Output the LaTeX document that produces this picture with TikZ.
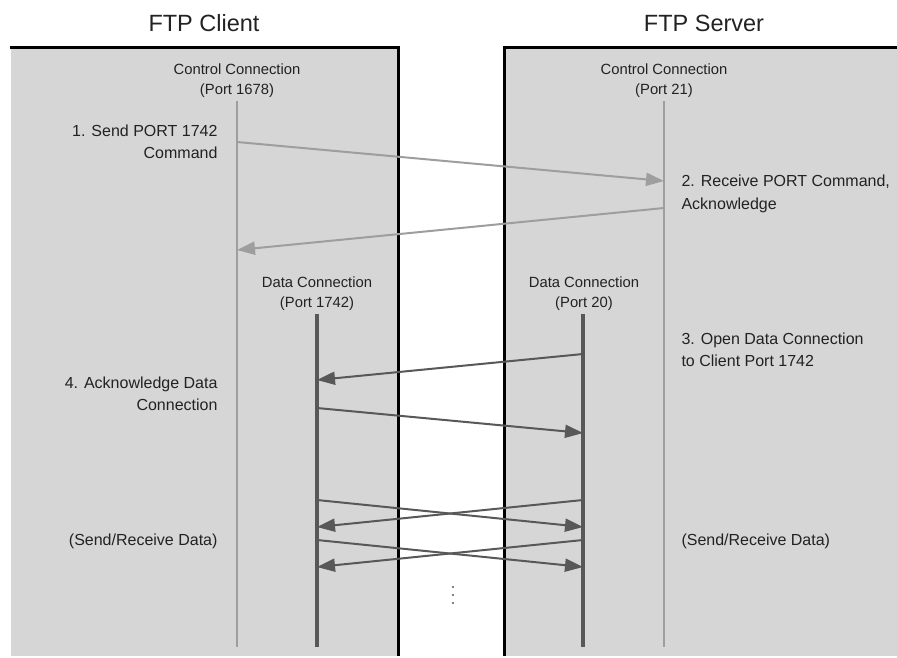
\documentclass[tikz,border=0pt]{standalone}
\usepackage{fontspec}
\setmainfont{Liberation Sans}
\usetikzlibrary{arrows.meta, positioning, calc}
\definecolor{panelgray}{RGB}{214, 214, 214}
\definecolor{ctrlgray}{RGB}{158, 158, 158}
\definecolor{datagray}{RGB}{88, 88, 88}
\definecolor{inkgray}{RGB}{34, 34, 34}
\tikzset{
    panel/.style={fill=panelgray, draw=none},
    panelrule/.style={line width=3pt, draw=black},
    sidetitle/.style={font=\fontsize{23.5}{26}\selectfont, text=inkgray},
    portlabel/.style={font=\fontsize{14.8}{20}\selectfont, align=center, text=inkgray},
    steplabel/.style={font=\fontsize{16}{22.5}\selectfont, text=inkgray},
    ctrlline/.style={line width=2.5pt, draw=ctrlgray},
    dataline/.style={line width=3.5pt, draw=datagray},
    ctrlarrow/.style={-{Triangle[length=18pt, width=13pt]}, line width=2pt, draw=ctrlgray},
    dataarrow/.style={-{Triangle[length=18pt, width=13pt]}, line width=2pt, draw=datagray},
}

\begin{document}
\begin{tikzpicture}[x=1pt, y=-1pt]
    \useasboundingbox (0,0) rectangle (897,657);
    \fill[panel] (11,47) rectangle (398,656);
    \fill[panel] (504,47) rectangle (897,656);
    \draw[panelrule] (10,47) -- (398,47) -- (398,656);
    \draw[panelrule] (897,47) -- (504,47) -- (504,656);

    \node[sidetitle] (client) at (204,23) {FTP Client};
    \node[sidetitle] (server) at (704,23) {FTP Server};

    \node[portlabel] (cctl) at (237,81) {Control Connection\\(Port 1678)};
    \node[portlabel] (sctl) at (664,81) {Control Connection\\(Port 21)};
    \node[portlabel] (cdata) at (317,294) {Data Connection\\(Port 1742)};
    \node[portlabel] (sdata) at (584,294) {Data Connection\\(Port 20)};

    \coordinate (cctl-end) at (237,647);
    \coordinate (sctl-end) at (664,647);
    \coordinate (cdata-end) at (317,647);
    \coordinate (sdata-end) at (583,647);
    \draw[ctrlline] (cctl.south) -- (cctl-end);
    \draw[ctrlline] (sctl.south) -- (sctl-end);
    \draw[dataline] (cdata.south) -- (cdata-end);
    \draw[dataline] (sdata.south -| sdata-end) -- (sdata-end);

    \node[steplabel, anchor=east, align=right] (send) at (221,142) {1. Send PORT 1742\\Command};
    \node[steplabel, anchor=west, align=left] (recv) at (678,194) {2. Receive PORT Command,\\Acknowledge};
    \node[steplabel, anchor=west, align=left] (open) at (678,350) {3. Open Data Connection\\to Client Port 1742};
    \node[steplabel, anchor=east, align=right] (ack) at (221,394) {4. Acknowledge Data\\Connection};
    \node[steplabel, anchor=east] (cxfer) at (221,541) {(Send/Receive Data)};
    \node[steplabel, anchor=west] (sxfer) at (678,541) {(Send/Receive Data)};

    \coordinate (port-a) at (237,142);
    \coordinate (port-b) at (664,181);
    \coordinate (reply-a) at (664,208);
    \coordinate (reply-b) at (237,250);
    \draw[ctrlarrow] (port-a) -- (port-b);
    \draw[ctrlarrow] (reply-a) -- (reply-b);

    \coordinate (open-a) at (583,354);
    \coordinate (open-b) at (317,380);
    \coordinate (ack-a) at (317,408);
    \coordinate (ack-b) at (583,433);
    \draw[dataarrow] (open-a) -- (open-b);
    \draw[dataarrow] (ack-a) -- (ack-b);

    \foreach \y [count=\i] in {500,540} {
        \coordinate (cx\i-a) at (317,\y);
        \coordinate (cx\i-b) at (583,\y+27);
        \coordinate (sx\i-a) at (583,\y);
        \coordinate (sx\i-b) at (317,\y+27);
        \draw[dataarrow] (cx\i-a) -- (cx\i-b);
        \draw[dataarrow] (sx\i-a) -- (sx\i-b);
    }

    \foreach \y in {587,595,603}
        \fill[datagray] (453,\y) circle (1.1pt);
\end{tikzpicture}
\end{document}
